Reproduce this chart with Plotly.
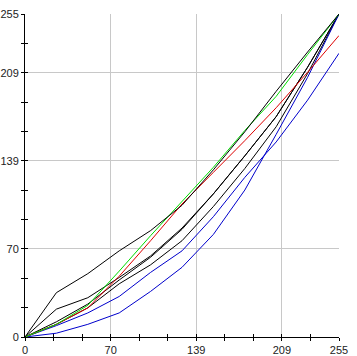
import plotly.graph_objects as go

# Input levels (x) shared by all curves
x_in = [0, 25.5, 51, 76.5, 102, 127.5, 153, 178.5, 204, 229.5, 255]

black_a = [0, 35, 50, 68, 84, 104, 132, 162, 194, 225, 255]
black_b = [0, 22, 31, 47, 64, 86, 113, 143, 174, 213, 255]
black_c = [0, 12, 26, 45, 63, 85, 113, 143, 174, 213, 255]
black_d = [0, 10, 23, 42, 57, 76, 103, 133, 166, 208, 255]
green_s = [0, 10, 25, 52, 80, 107, 134, 163, 190, 223, 255]
red_s = [0, 10, 23, 48, 76, 105, 130, 155, 181, 209, 238]
blue_e = [0, 9, 19, 32, 51, 68, 95, 126, 154, 187, 224]
blue_l = [0, 3, 10, 19, 36, 55, 81, 116, 160, 205, 255]

major_vals = [0, 255 * 3 / 11, 255 * 6 / 11, 255 * 9 / 11, 255]
major_text = ["0", "70", "139", "209", "255"]
minor_vals = [255 * k / 11 for k in (1, 2, 4, 5, 7, 8, 10)]

series = [
    (black_d, "#000000"),
    (black_c, "#000000"),
    (black_b, "#000000"),
    (blue_l, "#0000cc"),
    (blue_e, "#0000cc"),
    (red_s, "#dd0000"),
    (green_s, "#00dd00"),
    (black_a, "#000000"),
]

fig = go.Figure()
for ys, col in series:
    fig.add_trace(go.Scatter(x=x_in, y=ys, mode="lines",
                             line=dict(color=col, width=1),
                             hoverinfo="skip", showlegend=False))
# invisible trace to create overlay axes for inside tick halves
fig.add_trace(go.Scatter(x=[None], y=[None], xaxis="x2", yaxis="y2",
                         mode="lines", showlegend=False, hoverinfo="skip"))

font = dict(family="Liberation Sans, Arial, sans-serif", size=11, color="#222222")
common = dict(range=[0, 255], showgrid=True, gridcolor="#c8c8c8", gridwidth=1,
              zeroline=False, showline=True, linecolor="#000000", linewidth=1,
              ticks="outside", ticklen=3, tickcolor="#000000", tickwidth=1,
              tickmode="array", tickvals=major_vals, ticktext=major_text,
              tickfont=font, fixedrange=True, automargin=False,
              minor=dict(tickvals=minor_vals, ticks="outside", ticklen=3,
                         tickcolor="#000000", showgrid=False))
overlay = dict(range=[0, 255], showgrid=False, zeroline=False, showline=False,
               ticks="inside", ticklen=3, tickcolor="#000000", tickwidth=1,
               tickmode="array", tickvals=major_vals, showticklabels=False,
               minor=dict(tickvals=minor_vals, ticks="inside", ticklen=3,
                          tickcolor="#000000", showgrid=False),
               fixedrange=True)

fig.update_layout(
    width=357, height=356,
    margin=dict(l=25, r=18, t=14, b=19, pad=0),
    paper_bgcolor="white", plot_bgcolor="white",
    xaxis=common,
    yaxis=common,
    xaxis2=dict(overlay, overlaying="x", anchor="y2", side="bottom"),
    yaxis2=dict(overlay, overlaying="y", anchor="x2", side="left"),
)
fig.write_html("out.html", config={"displayModeBar": False})
